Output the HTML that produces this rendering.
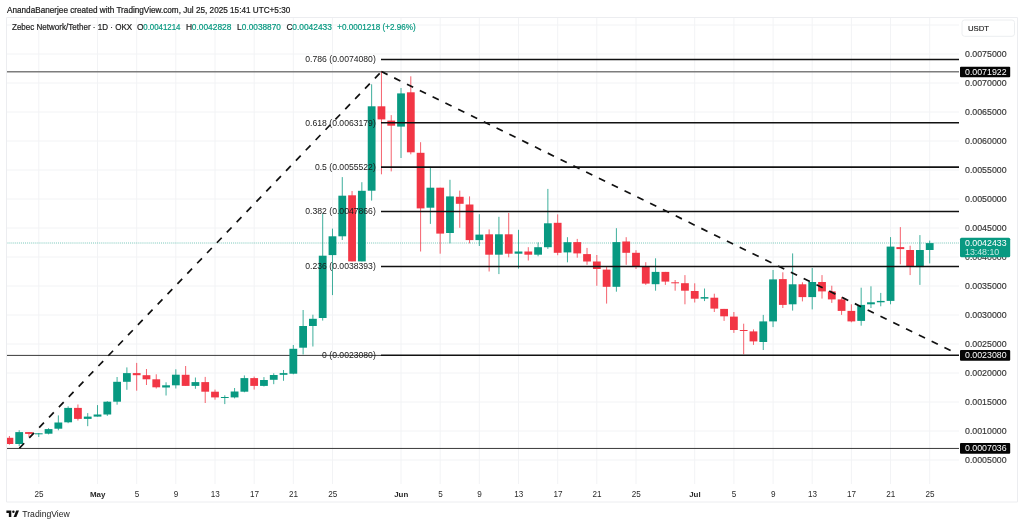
<!DOCTYPE html>
<html><head><meta charset="utf-8"><style>
html,body{margin:0;padding:0;background:#fff;}
body{width:1024px;height:525px;overflow:hidden;position:relative;font-family:"Liberation Sans",sans-serif;}
svg{position:absolute;left:0;top:0;will-change:transform;opacity:0.999;font-family:"Liberation Sans",sans-serif;}
.t{font-size:8.8px;stroke-width:0.15px;}
</style></head><body>
<svg width="1024" height="525" viewBox="0 0 1024 525">
<g stroke="#f2f3f5" stroke-width="1">
<line x1="38.8" y1="17.5" x2="38.8" y2="484"/>
<line x1="97.5" y1="17.5" x2="97.5" y2="484"/>
<line x1="136.7" y1="17.5" x2="136.7" y2="484"/>
<line x1="175.8" y1="17.5" x2="175.8" y2="484"/>
<line x1="215.0" y1="17.5" x2="215.0" y2="484"/>
<line x1="254.2" y1="17.5" x2="254.2" y2="484"/>
<line x1="293.3" y1="17.5" x2="293.3" y2="484"/>
<line x1="332.5" y1="17.5" x2="332.5" y2="484"/>
<line x1="401.0" y1="17.5" x2="401.0" y2="484"/>
<line x1="440.2" y1="17.5" x2="440.2" y2="484"/>
<line x1="479.3" y1="17.5" x2="479.3" y2="484"/>
<line x1="518.5" y1="17.5" x2="518.5" y2="484"/>
<line x1="557.7" y1="17.5" x2="557.7" y2="484"/>
<line x1="596.8" y1="17.5" x2="596.8" y2="484"/>
<line x1="636.0" y1="17.5" x2="636.0" y2="484"/>
<line x1="694.7" y1="17.5" x2="694.7" y2="484"/>
<line x1="733.9" y1="17.5" x2="733.9" y2="484"/>
<line x1="773.1" y1="17.5" x2="773.1" y2="484"/>
<line x1="812.2" y1="17.5" x2="812.2" y2="484"/>
<line x1="851.4" y1="17.5" x2="851.4" y2="484"/>
<line x1="890.5" y1="17.5" x2="890.5" y2="484"/>
<line x1="929.7" y1="17.5" x2="929.7" y2="484"/>
<line x1="6.5" y1="25" x2="959" y2="25"/>
<line x1="6.5" y1="54" x2="959" y2="54"/>
<line x1="6.5" y1="83" x2="959" y2="83"/>
<line x1="6.5" y1="112" x2="959" y2="112"/>
<line x1="6.5" y1="141" x2="959" y2="141"/>
<line x1="6.5" y1="170" x2="959" y2="170"/>
<line x1="6.5" y1="199" x2="959" y2="199"/>
<line x1="6.5" y1="228" x2="959" y2="228"/>
<line x1="6.5" y1="257" x2="959" y2="257"/>
<line x1="6.5" y1="286" x2="959" y2="286"/>
<line x1="6.5" y1="315" x2="959" y2="315"/>
<line x1="6.5" y1="344" x2="959" y2="344"/>
<line x1="6.5" y1="373" x2="959" y2="373"/>
<line x1="6.5" y1="402" x2="959" y2="402"/>
<line x1="6.5" y1="431" x2="959" y2="431"/>
<line x1="6.5" y1="460" x2="959" y2="460"/>
</g>
<line x1="6.5" y1="243" x2="959" y2="243" stroke="#089981" stroke-width="1" stroke-dasharray="1 1.06" opacity="0.55"/>
<line x1="6.5" y1="71.72" x2="959" y2="71.72" stroke="#7d7d7d" stroke-width="1.65"/>
<line x1="6.5" y1="448.45" x2="959" y2="448.45" stroke="#3a3a3a" stroke-width="1.0"/>
<line x1="6.5" y1="355.4" x2="381" y2="355.4" stroke="#3a3a3a" stroke-width="1"/>
<clipPath id="cp"><rect x="6.5" y="17.5" width="953" height="467"/></clipPath><g clip-path="url(#cp)">
<line x1="9.40" y1="436" x2="9.40" y2="444.7" stroke="#f23645" stroke-width="1" opacity="0.78"/>
<rect x="5.50" y="437.8" width="7.8" height="6.2" fill="#f23645"/>
<line x1="19.19" y1="430.2" x2="19.19" y2="446" stroke="#089981" stroke-width="1" opacity="0.78"/>
<rect x="15.29" y="432.1" width="7.8" height="11.9" fill="#089981"/>
<line x1="28.98" y1="432.1" x2="28.98" y2="437" stroke="#f23645" stroke-width="1" opacity="0.78"/>
<rect x="25.08" y="432.1" width="7.8" height="1.8" fill="#f23645"/>
<line x1="38.77" y1="433" x2="38.77" y2="437" stroke="#089981" stroke-width="1" opacity="0.78"/>
<rect x="34.87" y="433.3" width="7.8" height="1.0" fill="#089981"/>
<line x1="48.56" y1="428.2" x2="48.56" y2="434.4" stroke="#089981" stroke-width="1" opacity="0.78"/>
<rect x="44.66" y="429.1" width="7.8" height="4.6" fill="#089981"/>
<line x1="58.35" y1="415.4" x2="58.35" y2="430.3" stroke="#089981" stroke-width="1" opacity="0.78"/>
<rect x="54.45" y="422.5" width="7.8" height="6.2" fill="#089981"/>
<line x1="68.14" y1="406.3" x2="68.14" y2="423.2" stroke="#089981" stroke-width="1" opacity="0.78"/>
<rect x="64.24" y="407.9" width="7.8" height="14.4" fill="#089981"/>
<line x1="77.93" y1="404.5" x2="77.93" y2="420.5" stroke="#f23645" stroke-width="1" opacity="0.78"/>
<rect x="74.03" y="407.9" width="7.8" height="11.0" fill="#f23645"/>
<line x1="87.72" y1="413.1" x2="87.72" y2="426.2" stroke="#089981" stroke-width="1" opacity="0.78"/>
<rect x="83.82" y="416.6" width="7.8" height="2.3" fill="#089981"/>
<line x1="97.51" y1="405.1" x2="97.51" y2="416.6" stroke="#089981" stroke-width="1" opacity="0.78"/>
<rect x="93.61" y="414.5" width="7.8" height="2.1" fill="#089981"/>
<line x1="107.30" y1="401.2" x2="107.30" y2="415.9" stroke="#089981" stroke-width="1" opacity="0.78"/>
<rect x="103.40" y="401.7" width="7.8" height="12.8" fill="#089981"/>
<line x1="117.09" y1="377" x2="117.09" y2="404.7" stroke="#089981" stroke-width="1" opacity="0.78"/>
<rect x="113.19" y="381.8" width="7.8" height="19.9" fill="#089981"/>
<line x1="126.88" y1="367.4" x2="126.88" y2="389.8" stroke="#089981" stroke-width="1" opacity="0.78"/>
<rect x="122.98" y="373.1" width="7.8" height="8.7" fill="#089981"/>
<line x1="136.68" y1="362.9" x2="136.68" y2="390.7" stroke="#f23645" stroke-width="1" opacity="0.78"/>
<rect x="132.78" y="373.1" width="7.8" height="2.1" fill="#f23645"/>
<line x1="146.47" y1="369" x2="146.47" y2="385" stroke="#f23645" stroke-width="1" opacity="0.78"/>
<rect x="142.57" y="375.2" width="7.8" height="4.1" fill="#f23645"/>
<line x1="156.26" y1="374.3" x2="156.26" y2="388.5" stroke="#f23645" stroke-width="1" opacity="0.78"/>
<rect x="152.36" y="379.3" width="7.8" height="8.0" fill="#f23645"/>
<line x1="166.05" y1="382.3" x2="166.05" y2="395.5" stroke="#089981" stroke-width="1" opacity="0.78"/>
<rect x="162.15" y="385.3" width="7.8" height="2.2" fill="#089981"/>
<line x1="175.84" y1="369.3" x2="175.84" y2="388.5" stroke="#089981" stroke-width="1" opacity="0.78"/>
<rect x="171.94" y="374.7" width="7.8" height="10.6" fill="#089981"/>
<line x1="185.63" y1="366" x2="185.63" y2="385.9" stroke="#f23645" stroke-width="1" opacity="0.78"/>
<rect x="181.73" y="374.8" width="7.8" height="11.1" fill="#f23645"/>
<line x1="195.42" y1="377.5" x2="195.42" y2="388.8" stroke="#089981" stroke-width="1" opacity="0.78"/>
<rect x="191.52" y="382.1" width="7.8" height="3.8" fill="#089981"/>
<line x1="205.21" y1="376.9" x2="205.21" y2="403" stroke="#f23645" stroke-width="1" opacity="0.78"/>
<rect x="201.31" y="382.1" width="7.8" height="9.6" fill="#f23645"/>
<line x1="215.00" y1="389.6" x2="215.00" y2="399.7" stroke="#f23645" stroke-width="1" opacity="0.78"/>
<rect x="211.10" y="391.7" width="7.8" height="5.7" fill="#f23645"/>
<line x1="224.79" y1="395.3" x2="224.79" y2="404.1" stroke="#089981" stroke-width="1" opacity="0.78"/>
<rect x="220.89" y="397" width="7.8" height="1.0" fill="#089981"/>
<line x1="234.58" y1="388" x2="234.58" y2="398.4" stroke="#089981" stroke-width="1" opacity="0.78"/>
<rect x="230.68" y="391.5" width="7.8" height="5.9" fill="#089981"/>
<line x1="244.37" y1="375.4" x2="244.37" y2="392.3" stroke="#089981" stroke-width="1" opacity="0.78"/>
<rect x="240.47" y="378.1" width="7.8" height="13.6" fill="#089981"/>
<line x1="254.16" y1="376.6" x2="254.16" y2="389.6" stroke="#f23645" stroke-width="1" opacity="0.78"/>
<rect x="250.26" y="378.1" width="7.8" height="7.8" fill="#f23645"/>
<line x1="263.95" y1="377.1" x2="263.95" y2="386.5" stroke="#089981" stroke-width="1" opacity="0.78"/>
<rect x="260.05" y="380" width="7.8" height="5.9" fill="#089981"/>
<line x1="273.74" y1="373.3" x2="273.74" y2="384.2" stroke="#089981" stroke-width="1" opacity="0.78"/>
<rect x="269.84" y="375" width="7.8" height="4.8" fill="#089981"/>
<line x1="283.53" y1="370" x2="283.53" y2="380.8" stroke="#089981" stroke-width="1" opacity="0.78"/>
<rect x="279.63" y="373.1" width="7.8" height="1.7" fill="#089981"/>
<line x1="293.32" y1="345" x2="293.32" y2="374.3" stroke="#089981" stroke-width="1" opacity="0.78"/>
<rect x="289.42" y="348.8" width="7.8" height="24.9" fill="#089981"/>
<line x1="303.11" y1="310" x2="303.11" y2="354.5" stroke="#089981" stroke-width="1" opacity="0.78"/>
<rect x="299.21" y="326" width="7.8" height="21.7" fill="#089981"/>
<line x1="312.90" y1="314.7" x2="312.90" y2="346.5" stroke="#089981" stroke-width="1" opacity="0.78"/>
<rect x="309.00" y="318.8" width="7.8" height="7.2" fill="#089981"/>
<line x1="322.69" y1="213.7" x2="322.69" y2="320.6" stroke="#089981" stroke-width="1" opacity="0.78"/>
<rect x="318.79" y="255.7" width="7.8" height="62.3" fill="#089981"/>
<line x1="332.48" y1="228.6" x2="332.48" y2="295.1" stroke="#089981" stroke-width="1" opacity="0.78"/>
<rect x="328.58" y="236.3" width="7.8" height="18.8" fill="#089981"/>
<line x1="342.27" y1="177.1" x2="342.27" y2="240" stroke="#089981" stroke-width="1" opacity="0.78"/>
<rect x="338.37" y="195.7" width="7.8" height="40.6" fill="#089981"/>
<line x1="352.06" y1="191" x2="352.06" y2="261.4" stroke="#f23645" stroke-width="1" opacity="0.78"/>
<rect x="348.16" y="195.3" width="7.8" height="66.1" fill="#f23645"/>
<line x1="361.85" y1="182.2" x2="361.85" y2="261.4" stroke="#089981" stroke-width="1" opacity="0.78"/>
<rect x="357.95" y="190.8" width="7.8" height="70.6" fill="#089981"/>
<line x1="371.64" y1="84.3" x2="371.64" y2="200.6" stroke="#089981" stroke-width="1" opacity="0.78"/>
<rect x="367.74" y="106.3" width="7.8" height="84.4" fill="#089981"/>
<line x1="381.44" y1="71.4" x2="381.44" y2="174.3" stroke="#f23645" stroke-width="1" opacity="0.78"/>
<rect x="377.54" y="106.3" width="7.8" height="13.1" fill="#f23645"/>
<line x1="391.23" y1="115.1" x2="391.23" y2="171.4" stroke="#f23645" stroke-width="1" opacity="0.78"/>
<rect x="387.33" y="120.6" width="7.8" height="5.1" fill="#f23645"/>
<line x1="401.02" y1="88" x2="401.02" y2="158" stroke="#089981" stroke-width="1" opacity="0.78"/>
<rect x="397.12" y="93.4" width="7.8" height="33.2" fill="#089981"/>
<line x1="410.81" y1="76.3" x2="410.81" y2="154.3" stroke="#f23645" stroke-width="1" opacity="0.78"/>
<rect x="406.91" y="92.3" width="7.8" height="60.0" fill="#f23645"/>
<line x1="420.60" y1="142.2" x2="420.60" y2="251.5" stroke="#f23645" stroke-width="1" opacity="0.78"/>
<rect x="416.70" y="152.8" width="7.8" height="55.6" fill="#f23645"/>
<line x1="430.39" y1="166.8" x2="430.39" y2="223.9" stroke="#089981" stroke-width="1" opacity="0.78"/>
<rect x="426.49" y="187.7" width="7.8" height="20.0" fill="#089981"/>
<line x1="440.18" y1="187.7" x2="440.18" y2="253.7" stroke="#f23645" stroke-width="1" opacity="0.78"/>
<rect x="436.28" y="187.7" width="7.8" height="45.9" fill="#f23645"/>
<line x1="449.97" y1="179.8" x2="449.97" y2="243.4" stroke="#089981" stroke-width="1" opacity="0.78"/>
<rect x="446.07" y="196.4" width="7.8" height="36.6" fill="#089981"/>
<line x1="459.76" y1="190.6" x2="459.76" y2="227.8" stroke="#f23645" stroke-width="1" opacity="0.78"/>
<rect x="455.86" y="196.8" width="7.8" height="7.0" fill="#f23645"/>
<line x1="469.55" y1="196.4" x2="469.55" y2="243.4" stroke="#f23645" stroke-width="1" opacity="0.78"/>
<rect x="465.65" y="204.5" width="7.8" height="35.6" fill="#f23645"/>
<line x1="479.34" y1="214.2" x2="479.34" y2="246" stroke="#089981" stroke-width="1" opacity="0.78"/>
<rect x="475.44" y="234.6" width="7.8" height="5.5" fill="#089981"/>
<line x1="489.13" y1="229.4" x2="489.13" y2="271.5" stroke="#f23645" stroke-width="1" opacity="0.78"/>
<rect x="485.23" y="234.3" width="7.8" height="20.4" fill="#f23645"/>
<line x1="498.92" y1="216.8" x2="498.92" y2="274.1" stroke="#089981" stroke-width="1" opacity="0.78"/>
<rect x="495.02" y="234.3" width="7.8" height="20.4" fill="#089981"/>
<line x1="508.71" y1="212.9" x2="508.71" y2="257.3" stroke="#f23645" stroke-width="1" opacity="0.78"/>
<rect x="504.81" y="234.3" width="7.8" height="19.4" fill="#f23645"/>
<line x1="518.50" y1="229.8" x2="518.50" y2="268.6" stroke="#089981" stroke-width="1" opacity="0.78"/>
<rect x="514.60" y="251.5" width="7.8" height="2.2" fill="#089981"/>
<line x1="528.29" y1="247.2" x2="528.29" y2="260.5" stroke="#f23645" stroke-width="1" opacity="0.78"/>
<rect x="524.39" y="251.5" width="7.8" height="3.2" fill="#f23645"/>
<line x1="538.08" y1="242.4" x2="538.08" y2="256.3" stroke="#089981" stroke-width="1" opacity="0.78"/>
<rect x="534.18" y="247.2" width="7.8" height="7.5" fill="#089981"/>
<line x1="547.87" y1="188.9" x2="547.87" y2="248.9" stroke="#089981" stroke-width="1" opacity="0.78"/>
<rect x="543.97" y="223.3" width="7.8" height="23.9" fill="#089981"/>
<line x1="557.66" y1="214.4" x2="557.66" y2="255.2" stroke="#f23645" stroke-width="1" opacity="0.78"/>
<rect x="553.76" y="222.8" width="7.8" height="30.0" fill="#f23645"/>
<line x1="567.45" y1="237.2" x2="567.45" y2="262.3" stroke="#089981" stroke-width="1" opacity="0.78"/>
<rect x="563.55" y="242.2" width="7.8" height="10.2" fill="#089981"/>
<line x1="577.24" y1="238.9" x2="577.24" y2="257.7" stroke="#f23645" stroke-width="1" opacity="0.78"/>
<rect x="573.34" y="242.1" width="7.8" height="11.3" fill="#f23645"/>
<line x1="587.03" y1="247.9" x2="587.03" y2="264.8" stroke="#f23645" stroke-width="1" opacity="0.78"/>
<rect x="583.13" y="254.1" width="7.8" height="7.4" fill="#f23645"/>
<line x1="596.82" y1="255" x2="596.82" y2="285.8" stroke="#f23645" stroke-width="1" opacity="0.78"/>
<rect x="592.92" y="261.5" width="7.8" height="7.5" fill="#f23645"/>
<line x1="606.61" y1="266.4" x2="606.61" y2="303.6" stroke="#f23645" stroke-width="1" opacity="0.78"/>
<rect x="602.71" y="269.6" width="7.8" height="17.2" fill="#f23645"/>
<line x1="616.40" y1="228.2" x2="616.40" y2="291.7" stroke="#089981" stroke-width="1" opacity="0.78"/>
<rect x="612.50" y="242.1" width="7.8" height="44.7" fill="#089981"/>
<line x1="626.20" y1="237.2" x2="626.20" y2="264.8" stroke="#f23645" stroke-width="1" opacity="0.78"/>
<rect x="622.30" y="241.5" width="7.8" height="11.3" fill="#f23645"/>
<line x1="635.99" y1="250.2" x2="635.99" y2="269" stroke="#f23645" stroke-width="1" opacity="0.78"/>
<rect x="632.09" y="252.8" width="7.8" height="14.2" fill="#f23645"/>
<line x1="645.78" y1="262.2" x2="645.78" y2="284.9" stroke="#f23645" stroke-width="1" opacity="0.78"/>
<rect x="641.88" y="267" width="7.8" height="16.6" fill="#f23645"/>
<line x1="655.57" y1="258.3" x2="655.57" y2="290.7" stroke="#089981" stroke-width="1" opacity="0.78"/>
<rect x="651.67" y="271.9" width="7.8" height="12.3" fill="#089981"/>
<line x1="665.36" y1="271.9" x2="665.36" y2="284.9" stroke="#f23645" stroke-width="1" opacity="0.78"/>
<rect x="661.46" y="271.9" width="7.8" height="9.7" fill="#f23645"/>
<line x1="675.15" y1="280" x2="675.15" y2="290.7" stroke="#f23645" stroke-width="1" opacity="0.78"/>
<rect x="671.25" y="282.3" width="7.8" height="1.0" fill="#f23645"/>
<line x1="684.94" y1="275.1" x2="684.94" y2="304.3" stroke="#f23645" stroke-width="1" opacity="0.78"/>
<rect x="681.04" y="283.2" width="7.8" height="7.5" fill="#f23645"/>
<line x1="694.73" y1="283.3" x2="694.73" y2="302.5" stroke="#f23645" stroke-width="1" opacity="0.78"/>
<rect x="690.83" y="291" width="7.8" height="7.7" fill="#f23645"/>
<line x1="704.52" y1="288.5" x2="704.52" y2="301.1" stroke="#089981" stroke-width="1" opacity="0.78"/>
<rect x="700.62" y="297.1" width="7.8" height="1.5" fill="#089981"/>
<line x1="714.31" y1="293.7" x2="714.31" y2="312" stroke="#f23645" stroke-width="1" opacity="0.78"/>
<rect x="710.41" y="297.7" width="7.8" height="10.9" fill="#f23645"/>
<line x1="724.10" y1="308.9" x2="724.10" y2="320.9" stroke="#f23645" stroke-width="1" opacity="0.78"/>
<rect x="720.20" y="308.9" width="7.8" height="7.4" fill="#f23645"/>
<line x1="733.89" y1="312" x2="733.89" y2="332.9" stroke="#f23645" stroke-width="1" opacity="0.78"/>
<rect x="729.99" y="316.6" width="7.8" height="13.4" fill="#f23645"/>
<line x1="743.68" y1="323.7" x2="743.68" y2="354.3" stroke="#f23645" stroke-width="1" opacity="0.78"/>
<rect x="739.78" y="330" width="7.8" height="1.0" fill="#f23645"/>
<line x1="753.47" y1="329.4" x2="753.47" y2="344.9" stroke="#f23645" stroke-width="1" opacity="0.78"/>
<rect x="749.57" y="331.4" width="7.8" height="10.0" fill="#f23645"/>
<line x1="763.26" y1="314.9" x2="763.26" y2="350" stroke="#089981" stroke-width="1" opacity="0.78"/>
<rect x="759.36" y="321.4" width="7.8" height="20.6" fill="#089981"/>
<line x1="773.05" y1="270" x2="773.05" y2="327.1" stroke="#089981" stroke-width="1" opacity="0.78"/>
<rect x="769.15" y="279.4" width="7.8" height="42.0" fill="#089981"/>
<line x1="782.84" y1="272.3" x2="782.84" y2="308" stroke="#f23645" stroke-width="1" opacity="0.78"/>
<rect x="778.94" y="279.1" width="7.8" height="25.8" fill="#f23645"/>
<line x1="792.63" y1="253.4" x2="792.63" y2="310.6" stroke="#089981" stroke-width="1" opacity="0.78"/>
<rect x="788.73" y="284.3" width="7.8" height="20.0" fill="#089981"/>
<line x1="802.42" y1="282.3" x2="802.42" y2="301.4" stroke="#f23645" stroke-width="1" opacity="0.78"/>
<rect x="798.52" y="284.3" width="7.8" height="12.8" fill="#f23645"/>
<line x1="812.21" y1="268" x2="812.21" y2="309.4" stroke="#089981" stroke-width="1" opacity="0.78"/>
<rect x="808.31" y="282" width="7.8" height="15.1" fill="#089981"/>
<line x1="822.00" y1="275.1" x2="822.00" y2="298.6" stroke="#f23645" stroke-width="1" opacity="0.78"/>
<rect x="818.10" y="282" width="7.8" height="9.4" fill="#f23645"/>
<line x1="831.79" y1="285.7" x2="831.79" y2="302.9" stroke="#f23645" stroke-width="1" opacity="0.78"/>
<rect x="827.89" y="291.4" width="7.8" height="8.0" fill="#f23645"/>
<line x1="841.58" y1="297.1" x2="841.58" y2="314.9" stroke="#f23645" stroke-width="1" opacity="0.78"/>
<rect x="837.68" y="299.4" width="7.8" height="11.5" fill="#f23645"/>
<line x1="851.37" y1="304.3" x2="851.37" y2="322.3" stroke="#f23645" stroke-width="1" opacity="0.78"/>
<rect x="847.47" y="310.9" width="7.8" height="10.5" fill="#f23645"/>
<line x1="861.16" y1="287.7" x2="861.16" y2="325.7" stroke="#089981" stroke-width="1" opacity="0.78"/>
<rect x="857.26" y="304.9" width="7.8" height="16.0" fill="#089981"/>
<line x1="870.96" y1="286.3" x2="870.96" y2="308" stroke="#089981" stroke-width="1" opacity="0.78"/>
<rect x="867.06" y="302.3" width="7.8" height="2.0" fill="#089981"/>
<line x1="880.75" y1="292.9" x2="880.75" y2="306.3" stroke="#089981" stroke-width="1" opacity="0.78"/>
<rect x="876.85" y="300.9" width="7.8" height="1.4" fill="#089981"/>
<line x1="890.54" y1="237.1" x2="890.54" y2="304.3" stroke="#089981" stroke-width="1" opacity="0.78"/>
<rect x="886.64" y="246.6" width="7.8" height="54.3" fill="#089981"/>
<line x1="900.33" y1="227.1" x2="900.33" y2="264.3" stroke="#f23645" stroke-width="1" opacity="0.78"/>
<rect x="896.43" y="247.1" width="7.8" height="2.0" fill="#f23645"/>
<line x1="910.12" y1="245.7" x2="910.12" y2="275.1" stroke="#f23645" stroke-width="1" opacity="0.78"/>
<rect x="906.22" y="250" width="7.8" height="16.6" fill="#f23645"/>
<line x1="919.91" y1="235.1" x2="919.91" y2="284.9" stroke="#089981" stroke-width="1" opacity="0.78"/>
<rect x="916.01" y="250" width="7.8" height="17.1" fill="#089981"/>
<line x1="929.70" y1="240.6" x2="929.70" y2="263.4" stroke="#089981" stroke-width="1" opacity="0.78"/>
<rect x="925.80" y="243.1" width="7.8" height="6.9" fill="#089981"/>
</g>
<line x1="381" y1="59.49" x2="959" y2="59.49" stroke="#111" stroke-width="1.55"/>
<text x="375.8" y="62.44" text-anchor="end" style="font-size:8.65px" fill="#1a1a1a">0.786 (0.0074080)</text>
<line x1="381" y1="122.71" x2="959" y2="122.71" stroke="#111" stroke-width="1.55"/>
<text x="375.8" y="125.66" text-anchor="end" style="font-size:8.65px" fill="#1a1a1a">0.618 (0.0063179)</text>
<line x1="381" y1="167.12" x2="959" y2="167.12" stroke="#111" stroke-width="1.55"/>
<text x="375.8" y="170.07" text-anchor="end" style="font-size:8.65px" fill="#1a1a1a">0.5 (0.0055522)</text>
<line x1="381" y1="211.53" x2="959" y2="211.53" stroke="#111" stroke-width="1.55"/>
<text x="375.8" y="214.48" text-anchor="end" style="font-size:8.65px" fill="#1a1a1a">0.382 (0.0047866)</text>
<line x1="381" y1="266.47" x2="959" y2="266.47" stroke="#111" stroke-width="1.55"/>
<text x="375.8" y="269.42" text-anchor="end" style="font-size:8.65px" fill="#1a1a1a">0.236 (0.0038393)</text>
<line x1="381" y1="355.29" x2="959" y2="355.29" stroke="#111" stroke-width="1.55"/>
<text x="375.8" y="358.24" text-anchor="end" style="font-size:8.65px" fill="#1a1a1a">0 (0.0023080)</text>
<path d="M19.4,448.2 L381.4,71.6 M381.4,71.6 L957,353.7" fill="none" stroke="#111" stroke-width="1.7" stroke-dasharray="6.9 7.35"/>
<text x="965" y="57.1" class="t" fill="#333" stroke="#333">0.0075000</text>
<text x="965" y="86.1" class="t" fill="#333" stroke="#333">0.0070000</text>
<text x="965" y="115.1" class="t" fill="#333" stroke="#333">0.0065000</text>
<text x="965" y="144.1" class="t" fill="#333" stroke="#333">0.0060000</text>
<text x="965" y="173.1" class="t" fill="#333" stroke="#333">0.0055000</text>
<text x="965" y="202.1" class="t" fill="#333" stroke="#333">0.0050000</text>
<text x="965" y="231.1" class="t" fill="#333" stroke="#333">0.0045000</text>
<text x="965" y="260.1" class="t" fill="#333" stroke="#333">0.0040000</text>
<text x="965" y="289.1" class="t" fill="#333" stroke="#333">0.0035000</text>
<text x="965" y="318.1" class="t" fill="#333" stroke="#333">0.0030000</text>
<text x="965" y="347.1" class="t" fill="#333" stroke="#333">0.0025000</text>
<text x="965" y="376.1" class="t" fill="#333" stroke="#333">0.0020000</text>
<text x="965" y="405.1" class="t" fill="#333" stroke="#333">0.0015000</text>
<text x="965" y="434.1" class="t" fill="#333" stroke="#333">0.0010000</text>
<text x="965" y="463.1" class="t" fill="#333" stroke="#333">0.0005000</text>
<rect x="960" y="66.65" width="50.2" height="10.7" rx="1" fill="#050505"/>
<text x="965" y="74.95" class="t" fill="#fff">0.0071922</text>
<rect x="960" y="349.94" width="50.2" height="10.7" rx="1" fill="#050505"/>
<text x="965" y="358.24" class="t" fill="#fff">0.0023080</text>
<rect x="960" y="442.99" width="50.2" height="10.7" rx="1" fill="#050505"/>
<text x="965" y="451.29" class="t" fill="#fff">0.0007036</text>
<rect x="960" y="237.8" width="50.2" height="19.5" rx="1.5" fill="#089981"/>
<text x="965" y="246.3" class="t" fill="#fff">0.0042433</text>
<text x="965" y="254.9" class="t" fill="#c6ebe4">13:48:10</text>
<text x="39.0" y="496.6" text-anchor="middle" style="font-size:8.15px" fill="#2a2a2a">25</text>
<text x="97.7" y="496.6" text-anchor="middle" style="font-size:7.95px" fill="#2a2a2a" font-weight="bold">May</text>
<text x="136.9" y="496.6" text-anchor="middle" style="font-size:8.15px" fill="#2a2a2a">5</text>
<text x="176.0" y="496.6" text-anchor="middle" style="font-size:8.15px" fill="#2a2a2a">9</text>
<text x="215.2" y="496.6" text-anchor="middle" style="font-size:8.15px" fill="#2a2a2a">13</text>
<text x="254.4" y="496.6" text-anchor="middle" style="font-size:8.15px" fill="#2a2a2a">17</text>
<text x="293.5" y="496.6" text-anchor="middle" style="font-size:8.15px" fill="#2a2a2a">21</text>
<text x="332.7" y="496.6" text-anchor="middle" style="font-size:8.15px" fill="#2a2a2a">25</text>
<text x="401.2" y="496.6" text-anchor="middle" style="font-size:7.95px" fill="#2a2a2a" font-weight="bold">Jun</text>
<text x="440.4" y="496.6" text-anchor="middle" style="font-size:8.15px" fill="#2a2a2a">5</text>
<text x="479.5" y="496.6" text-anchor="middle" style="font-size:8.15px" fill="#2a2a2a">9</text>
<text x="518.7" y="496.6" text-anchor="middle" style="font-size:8.15px" fill="#2a2a2a">13</text>
<text x="557.9" y="496.6" text-anchor="middle" style="font-size:8.15px" fill="#2a2a2a">17</text>
<text x="597.0" y="496.6" text-anchor="middle" style="font-size:8.15px" fill="#2a2a2a">21</text>
<text x="636.2" y="496.6" text-anchor="middle" style="font-size:8.15px" fill="#2a2a2a">25</text>
<text x="694.9" y="496.6" text-anchor="middle" style="font-size:7.95px" fill="#2a2a2a" font-weight="bold">Jul</text>
<text x="734.1" y="496.6" text-anchor="middle" style="font-size:8.15px" fill="#2a2a2a">5</text>
<text x="773.3" y="496.6" text-anchor="middle" style="font-size:8.15px" fill="#2a2a2a">9</text>
<text x="812.4" y="496.6" text-anchor="middle" style="font-size:8.15px" fill="#2a2a2a">13</text>
<text x="851.6" y="496.6" text-anchor="middle" style="font-size:8.15px" fill="#2a2a2a">17</text>
<text x="890.7" y="496.6" text-anchor="middle" style="font-size:8.15px" fill="#2a2a2a">21</text>
<text x="929.9" y="496.6" text-anchor="middle" style="font-size:8.15px" fill="#2a2a2a">25</text>
<g stroke="#ecedf0" stroke-width="1" fill="none"><line x1="6.5" y1="17.5" x2="1017.5" y2="17.5"/><line x1="6.5" y1="17.5" x2="6.5" y2="502"/><line x1="1017.5" y1="17.5" x2="1017.5" y2="502"/><line x1="6.5" y1="502" x2="1017.5" y2="502"/></g>
<rect x="962" y="20" width="52.5" height="16.3" rx="2.5" fill="#fff" stroke="#eceef0" stroke-width="1"/>
<text x="968" y="31.3" style="font-size:7.75px" fill="#222" stroke="#222" stroke-width="0.15">USDT</text>
<text x="7" y="13.1" style="font-size:8.17px" fill="#1c1c1c" stroke="#1c1c1c" stroke-width="0.22" textLength="283.3" lengthAdjust="spacingAndGlyphs">AnandaBanerjee created with TradingView.com, Jul 25, 2025 15:41 UTC+5:30</text>
<text x="12.0" y="30.3" style="font-size:8.45px" fill="#1c1c1c" stroke="#1c1c1c" stroke-width="0.2" textLength="120.1" lengthAdjust="spacingAndGlyphs">Zebec Network/Tether · 1D · OKX</text>
<text x="137.0" y="30.3" style="font-size:8.45px" fill="#1c1c1c" stroke="#1c1c1c" stroke-width="0.2">O</text>
<text x="143.3" y="30.3" style="font-size:8.45px" fill="#089981" stroke="#089981" stroke-width="0.2" textLength="37.2" lengthAdjust="spacingAndGlyphs">0.0041214</text>
<text x="186.0" y="30.3" style="font-size:8.45px" fill="#1c1c1c" stroke="#1c1c1c" stroke-width="0.2">H</text>
<text x="191.8" y="30.3" style="font-size:8.45px" fill="#089981" stroke="#089981" stroke-width="0.2" textLength="39.6" lengthAdjust="spacingAndGlyphs">0.0042828</text>
<text x="237.0" y="30.3" style="font-size:8.45px" fill="#1c1c1c" stroke="#1c1c1c" stroke-width="0.2">L</text>
<text x="241.8" y="30.3" style="font-size:8.45px" fill="#089981" stroke="#089981" stroke-width="0.2" textLength="39.1" lengthAdjust="spacingAndGlyphs">0.0038870</text>
<text x="286.5" y="30.3" style="font-size:8.45px" fill="#1c1c1c" stroke="#1c1c1c" stroke-width="0.2">C</text>
<text x="292.3" y="30.3" style="font-size:8.45px" fill="#089981" stroke="#089981" stroke-width="0.2" textLength="39.6" lengthAdjust="spacingAndGlyphs">0.0042433</text>
<text x="337.2" y="30.3" style="font-size:8.45px" fill="#089981" stroke="#089981" stroke-width="0.2" textLength="78.4" lengthAdjust="spacingAndGlyphs">+0.0001218 (+2.96%)</text>
<g fill="#111" transform="translate(6.4,510.6) scale(0.35)"><path d="M14 18H7V7H0V0h14v18z"/><circle cx="20" cy="3.5" r="3.5"/><path d="M28.5 18H20.5L28 0h8l-7.5 18z"/></g>
<text x="22.3" y="516.8" style="font-size:8.65px" fill="#222">TradingView</text>
</svg>
</body></html>
